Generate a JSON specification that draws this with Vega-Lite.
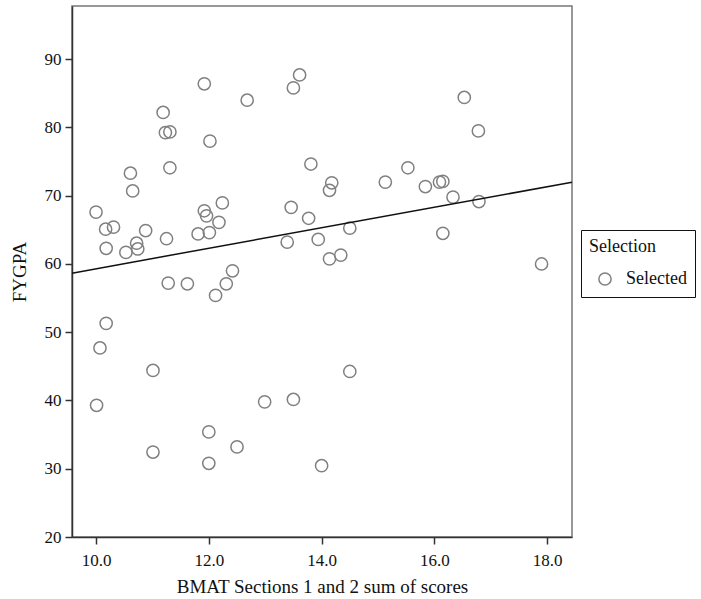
{
  "$schema": "https://vega.github.io/schema/vega-lite/v6.json",
  "autosize": "none",
  "padding": {"left": 72, "top": 6, "right": 129, "bottom": 62},
  "width": 500,
  "height": 531,
  "config": {
    "font": "Liberation Serif",
    "view": {"stroke": "#777777", "strokeWidth": 1.5},
    "axis": {
      "grid": false,
      "labelFont": "Liberation Serif",
      "titleFont": "Liberation Serif",
      "labelFontSize": 17,
      "titleFontSize": 19,
      "titleFontWeight": "normal",
      "labelColor": "#111111",
      "titleColor": "#111111",
      "domainColor": "#333333",
      "domainWidth": 1.5,
      "tickColor": "#333333",
      "tickWidth": 1.5,
      "tickSize": 7
    }
  },
  "layer": [
    {
      "data": {
        "values": [
          {"bmat": 10.0, "fygpa": 67.6, "sel": "Selected"},
          {"bmat": 10.17, "fygpa": 65.1, "sel": "Selected"},
          {"bmat": 10.31, "fygpa": 65.4, "sel": "Selected"},
          {"bmat": 10.18, "fygpa": 62.3, "sel": "Selected"},
          {"bmat": 10.53, "fygpa": 61.7, "sel": "Selected"},
          {"bmat": 10.72, "fygpa": 63.05, "sel": "Selected"},
          {"bmat": 10.74, "fygpa": 62.2, "sel": "Selected"},
          {"bmat": 10.88, "fygpa": 64.9, "sel": "Selected"},
          {"bmat": 10.61, "fygpa": 73.3, "sel": "Selected"},
          {"bmat": 10.65, "fygpa": 70.7, "sel": "Selected"},
          {"bmat": 11.19, "fygpa": 82.2, "sel": "Selected"},
          {"bmat": 11.23, "fygpa": 79.25, "sel": "Selected"},
          {"bmat": 11.31, "fygpa": 79.35, "sel": "Selected"},
          {"bmat": 11.31, "fygpa": 74.1, "sel": "Selected"},
          {"bmat": 11.25, "fygpa": 63.7, "sel": "Selected"},
          {"bmat": 11.28, "fygpa": 57.2, "sel": "Selected"},
          {"bmat": 11.62, "fygpa": 57.1, "sel": "Selected"},
          {"bmat": 11.92, "fygpa": 86.4, "sel": "Selected"},
          {"bmat": 12.02, "fygpa": 78.0, "sel": "Selected"},
          {"bmat": 11.92, "fygpa": 67.8, "sel": "Selected"},
          {"bmat": 11.96, "fygpa": 67.05, "sel": "Selected"},
          {"bmat": 11.81, "fygpa": 64.4, "sel": "Selected"},
          {"bmat": 12.01, "fygpa": 64.6, "sel": "Selected"},
          {"bmat": 12.18, "fygpa": 66.1, "sel": "Selected"},
          {"bmat": 12.24, "fygpa": 68.95, "sel": "Selected"},
          {"bmat": 12.68, "fygpa": 84.0, "sel": "Selected"},
          {"bmat": 12.42, "fygpa": 59.0, "sel": "Selected"},
          {"bmat": 12.31, "fygpa": 57.1, "sel": "Selected"},
          {"bmat": 12.12, "fygpa": 55.4, "sel": "Selected"},
          {"bmat": 10.18, "fygpa": 51.3, "sel": "Selected"},
          {"bmat": 10.07, "fygpa": 47.7, "sel": "Selected"},
          {"bmat": 10.01, "fygpa": 39.3, "sel": "Selected"},
          {"bmat": 11.01, "fygpa": 44.4, "sel": "Selected"},
          {"bmat": 11.01, "fygpa": 32.45, "sel": "Selected"},
          {"bmat": 12.0, "fygpa": 35.4, "sel": "Selected"},
          {"bmat": 12.0, "fygpa": 30.8, "sel": "Selected"},
          {"bmat": 12.5, "fygpa": 33.2, "sel": "Selected"},
          {"bmat": 12.99, "fygpa": 39.8, "sel": "Selected"},
          {"bmat": 13.5, "fygpa": 40.15, "sel": "Selected"},
          {"bmat": 14.5, "fygpa": 44.25, "sel": "Selected"},
          {"bmat": 14.0, "fygpa": 30.45, "sel": "Selected"},
          {"bmat": 13.61, "fygpa": 87.7, "sel": "Selected"},
          {"bmat": 13.5, "fygpa": 85.8, "sel": "Selected"},
          {"bmat": 16.53, "fygpa": 84.4, "sel": "Selected"},
          {"bmat": 16.78, "fygpa": 79.5, "sel": "Selected"},
          {"bmat": 13.81, "fygpa": 74.65, "sel": "Selected"},
          {"bmat": 14.18, "fygpa": 71.9, "sel": "Selected"},
          {"bmat": 14.14, "fygpa": 70.8, "sel": "Selected"},
          {"bmat": 15.13, "fygpa": 72.0, "sel": "Selected"},
          {"bmat": 15.53, "fygpa": 74.1, "sel": "Selected"},
          {"bmat": 15.84, "fygpa": 71.35, "sel": "Selected"},
          {"bmat": 16.09, "fygpa": 72.0, "sel": "Selected"},
          {"bmat": 16.15, "fygpa": 72.1, "sel": "Selected"},
          {"bmat": 16.33, "fygpa": 69.8, "sel": "Selected"},
          {"bmat": 16.79, "fygpa": 69.15, "sel": "Selected"},
          {"bmat": 13.46, "fygpa": 68.3, "sel": "Selected"},
          {"bmat": 13.77, "fygpa": 66.7, "sel": "Selected"},
          {"bmat": 14.5, "fygpa": 65.25, "sel": "Selected"},
          {"bmat": 13.39, "fygpa": 63.2, "sel": "Selected"},
          {"bmat": 13.94, "fygpa": 63.6, "sel": "Selected"},
          {"bmat": 16.15, "fygpa": 64.5, "sel": "Selected"},
          {"bmat": 14.14, "fygpa": 60.75, "sel": "Selected"},
          {"bmat": 14.34, "fygpa": 61.3, "sel": "Selected"},
          {"bmat": 17.9, "fygpa": 60.0, "sel": "Selected"}
        ]
      },
      "mark": {"type": "point", "shape": "circle", "filled": false, "size": 150, "strokeWidth": 1.5, "opacity": 1},
      "encoding": {
        "x": {
          "field": "bmat", "type": "quantitative",
          "scale": {"domain": [9.574, 18.44], "nice": false, "zero": false},
          "axis": {"values": [10, 12, 14, 16, 18], "format": ".1f", "title": "BMAT Sections 1 and 2 sum of scores", "labelFont": "Liberation Serif", "titleFont": "Liberation Serif", "labelPadding": 8, "titlePadding": 9}
        },
        "y": {
          "field": "fygpa", "type": "quantitative",
          "scale": {"domain": [20, 97.8], "nice": false, "zero": false},
          "axis": {"values": [20, 30, 40, 50, 60, 70, 80, 90], "title": "FYGPA", "labelFont": "Liberation Serif", "titleFont": "Liberation Serif", "labelPadding": 4, "titlePadding": 15}
        },
        "color": {
          "field": "sel", "type": "nominal",
          "scale": {"range": ["#808080"]},
          "legend": {
            "title": "Selection",
            "orient": "none",
            "legendX": 509,
            "legendY": 224,
            "strokeColor": "#111111",
            "padding": 8,
            "titleFont": "Liberation Serif",
            "titleFontSize": 18,
            "titleFontWeight": "normal",
            "titleColor": "#111111",
            "titlePadding": 14,
            "labelFont": "Liberation Serif",
            "labelFontSize": 18,
            "labelColor": "#111111",
            "labelOffset": 12,
            "symbolOffset": 7,
            "symbolSize": 150,
            "symbolStrokeWidth": 1.5,
            "symbolType": "circle"
          }
        }
      }
    },
    {
      "data": {"values": [{"bmat": 9.574, "fygpa": 58.66}, {"bmat": 18.44, "fygpa": 71.98}]},
      "mark": {"type": "line", "color": "#111111", "strokeWidth": 1.5},
      "encoding": {
        "x": {"field": "bmat", "type": "quantitative"},
        "y": {"field": "fygpa", "type": "quantitative"}
      }
    }
  ]
}
